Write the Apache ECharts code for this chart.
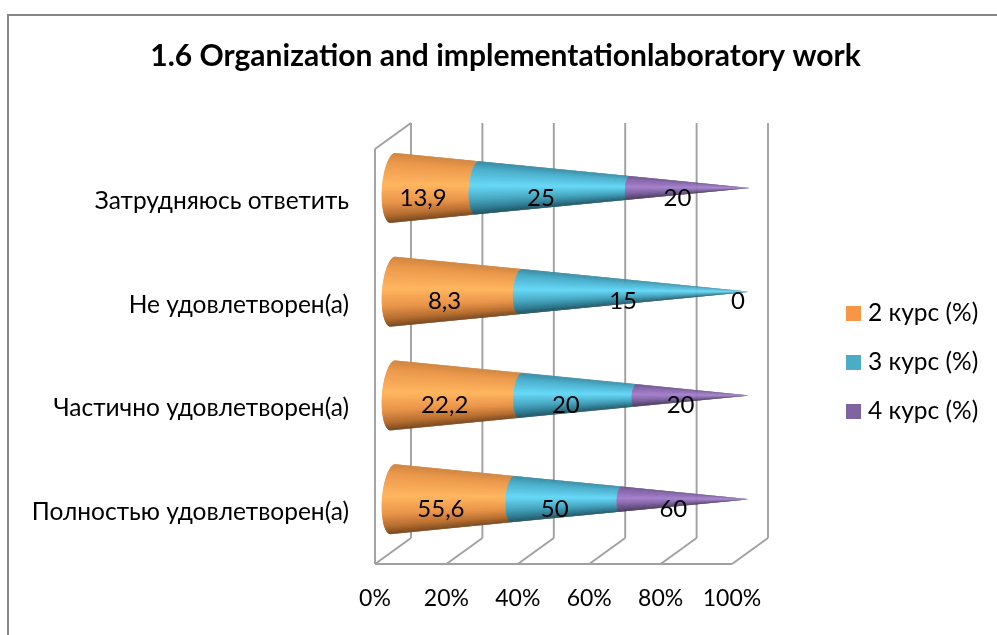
<!DOCTYPE html>
<html>
<head>
<meta charset="utf-8">
<style>
  html, body { margin: 0; padding: 0; background: #fff; }
  #chart { width: 997px; height: 635px; }
</style>
<script src="https://cdn.jsdelivr.net/npm/echarts@6/dist/echarts.min.js"></script>
</head>
<body>
<div id="chart"></div>
<script>
  // bottom row first, the category axis runs upwards
  const categories = ['Полностью удовлетворен(а)', 'Частично удовлетворен(а)', 'Не удовлетворен(а)', 'Затрудняюсь ответить'];
  const course2 = [55.6, 22.2, 8.3, 13.9];
  const course3 = [50, 20, 15, 25];
  const course4 = [60, 20, 0, 20];
  const seriesNames = ['2 курс (%)', '3 курс (%)', '4 курс (%)'];
  const seriesValues = [course2, course3, course4];
  const percentTicks = [0, 20, 40, 60, 80, 100];

  const FONT = 'Lato, "Open Sans", sans-serif';
  const legendColors = ['#F79646', '#4BACC6', '#8064A2'];
  // shading across the cone, top edge to bottom edge
  const BRIGHTEST = 0.45;
  const coneShades = [
    [[0, '#cf8540'], [0.14, '#ea984b'], [BRIGHTEST, '#ffb45e'], [0.7, '#e9944a'], [0.88, '#b66e30'], [1, '#764820']],
    [[0, '#38889f'], [0.14, '#4aadc9'], [BRIGHTEST, '#66d6f5'], [0.7, '#48a8c2'], [0.88, '#307a90'], [1, '#1f4f5e']],
    [[0, '#664d86'], [0.14, '#8465a9'], [BRIGHTEST, '#a47fcc'], [0.7, '#8265a5'], [0.88, '#5d4879'], [1, '#403254']]
  ];

  // 3D box offset of the back wall from the front plane
  const DEPTH_X = 36, DEPTH_Y = -26;
  const CONE_R = 35, CONE_A = 11, CONE_SKEW = 0.07;
  const SLIVERS = 48;

  function hexToRgb(hex) {
    return [1, 3, 5].map(i => parseInt(hex.slice(i, i + 2), 16));
  }

  function shadeAt(stops, u) {
    for (let i = 1; i < stops.length; i++) {
      if (u <= stops[i][0]) {
        const f = (u - stops[i - 1][0]) / (stops[i][0] - stops[i - 1][0]);
        const a = hexToRgb(stops[i - 1][1]), b = hexToRgb(stops[i][1]);
        return 'rgb(' + a.map((v, k) => Math.round(v + (b[k] - v) * f)).join(',') + ')';
      }
    }
    return stops[stops.length - 1][1];
  }

  // [from %, to %, category index, raw value]; 100% stacked per category
  function stackedRows(si) {
    return categories.map((c, ci) => {
      const total = seriesValues.reduce((s, vals) => s + vals[ci], 0);
      let before = 0;
      for (let k = 0; k < si; k++) before += seriesValues[k][ci];
      return [before / total * 100, (before + seriesValues[si][ci]) / total * 100, ci, seriesValues[si][ci]];
    });
  }

  function conePoint(api, pct, cat, theta) {
    const p = api.coord([pct, cat]);
    const s = 1 - pct / 100;
    const r = CONE_R * s;
    return [
      p[0] + DEPTH_X / 2 - CONE_A * s * Math.cos(theta) - CONE_SKEW * r * Math.sin(theta),
      p[1] + DEPTH_Y / 2 + r * Math.sin(theta)
    ];
  }

  function renderCone(si) {
    return function (params, api) {
      const from = api.value(0), to = api.value(1), cat = api.value(2), raw = api.value(3);
      const children = [];
      if (to > from) {
        // brightest band goes last so the slivers meet in a light tip, not a dark one
        const step = Math.PI / SLIVERS;
        const bands = [];
        for (let k = 0; k < SLIVERS; k++) {
          const mid = -Math.PI / 2 + step * (k + 0.5);
          bands.push({ mid: mid, u: (Math.sin(mid) + 1) / 2 });
        }
        bands.sort((a, b) => Math.abs(b.u - BRIGHTEST) - Math.abs(a.u - BRIGHTEST));
        bands.forEach(b => {
          const t0 = Math.max(b.mid - step, -Math.PI / 2);
          const t1 = Math.min(b.mid + step, Math.PI / 2);
          children.push({
            type: 'polygon',
            shape: { points: [
              conePoint(api, from, cat, t0), conePoint(api, to, cat, t0),
              conePoint(api, to, cat, t1), conePoint(api, from, cat, t1)
            ] },
            style: { fill: shadeAt(coneShades[si], b.u) }
          });
        });
      }
      const mid = api.coord([(from + to) / 2, cat]);
      children.push({
        type: 'text',
        z2: 100,
        style: {
          text: String(raw).replace('.', ','),
          x: mid[0] + 6,
          y: mid[1] - 3,
          align: 'center',
          verticalAlign: 'middle',
          fill: '#000',
          font: '24px ' + FONT
        }
      });
      return { type: 'group', children: children };
    };
  }

  // walls and floor of the 3D box
  function renderFrame(params, api) {
    const lineStyle = { stroke: '#a0a0a0', lineWidth: 1.9, fill: null };
    const tick = api.value(0);
    const band = api.size([0, 1])[1];
    const first = api.coord([tick, 0]);
    const last = api.coord([tick, categories.length - 1]);
    const bottom = [first[0], first[1] + band / 2];
    const top = [last[0], last[1] - band / 2];
    const line = (a, b) => ({ type: 'line', shape: { x1: a[0], y1: a[1], x2: b[0], y2: b[1] }, style: lineStyle });
    const back = p => [p[0] + DEPTH_X, p[1] + DEPTH_Y];
    const children = [
      line(bottom, back(bottom)),
      line(back(bottom), back(top))
    ];
    if (params.dataIndex === 0) {
      const end = api.coord([percentTicks[percentTicks.length - 1], 0]);
      children.push(line(top, bottom), line(top, back(top)));
      children.push(line(bottom, [end[0], bottom[1]]));
    }
    return { type: 'group', children: children };
  }

  const series = [{
    type: 'custom',
    silent: true,
    data: percentTicks.map(t => [t]),
    encode: { x: 0 },
    renderItem: renderFrame,
    z: 1
  }].concat(seriesNames.map((name, si) => ({
    type: 'custom',
    name: name,
    silent: true,
    data: stackedRows(si),
    encode: { x: [0, 1], y: 2 },
    itemStyle: { color: legendColors[si] },
    renderItem: renderCone(si),
    z: 2 + si
  })));

  const chart = echarts.init(document.getElementById('chart'), null, { renderer: 'canvas' });
  chart.setOption({
    animation: false,
    backgroundColor: '#fff',
    title: {
      text: '1.6 Organization and implementationlaboratory work',
      left: 500.5,
      top: 36,
      textAlign: 'center',
      textStyle: { fontFamily: FONT, fontSize: 30, fontWeight: 'bold', color: '#000' }
    },
    legend: {
      orient: 'vertical',
      left: 846,
      top: 301,
      padding: 0,
      itemWidth: 15,
      itemHeight: 15,
      itemGap: 24,
      icon: 'rect',
      data: seriesNames,
      textStyle: { fontFamily: FONT, fontSize: 24.5, color: '#000', padding: [0, 0, 0, 2] }
    },
    grid: { left: 375, top: 149, width: 357, height: 415 },
    xAxis: {
      type: 'value',
      min: 0,
      max: 100,
      interval: 20,
      axisLine: { show: false },
      axisTick: { show: false },
      splitLine: { show: false },
      axisLabel: { formatter: '{value}%', margin: 23, color: '#000', fontFamily: FONT, fontSize: 23 }
    },
    yAxis: {
      type: 'category',
      data: categories,
      axisLine: { show: false },
      axisTick: { show: false },
      splitLine: { show: false },
      axisLabel: { margin: 26, color: '#000', fontFamily: FONT, fontSize: 24.5 }
    },
    graphic: [{
      type: 'polyline',
      silent: true,
      shape: { points: [[8, 635], [8, 15], [997, 15]] },
      style: { stroke: '#868686', lineWidth: 2, fill: null }
    }],
    series: series
  });
</script>
</body>
</html>
